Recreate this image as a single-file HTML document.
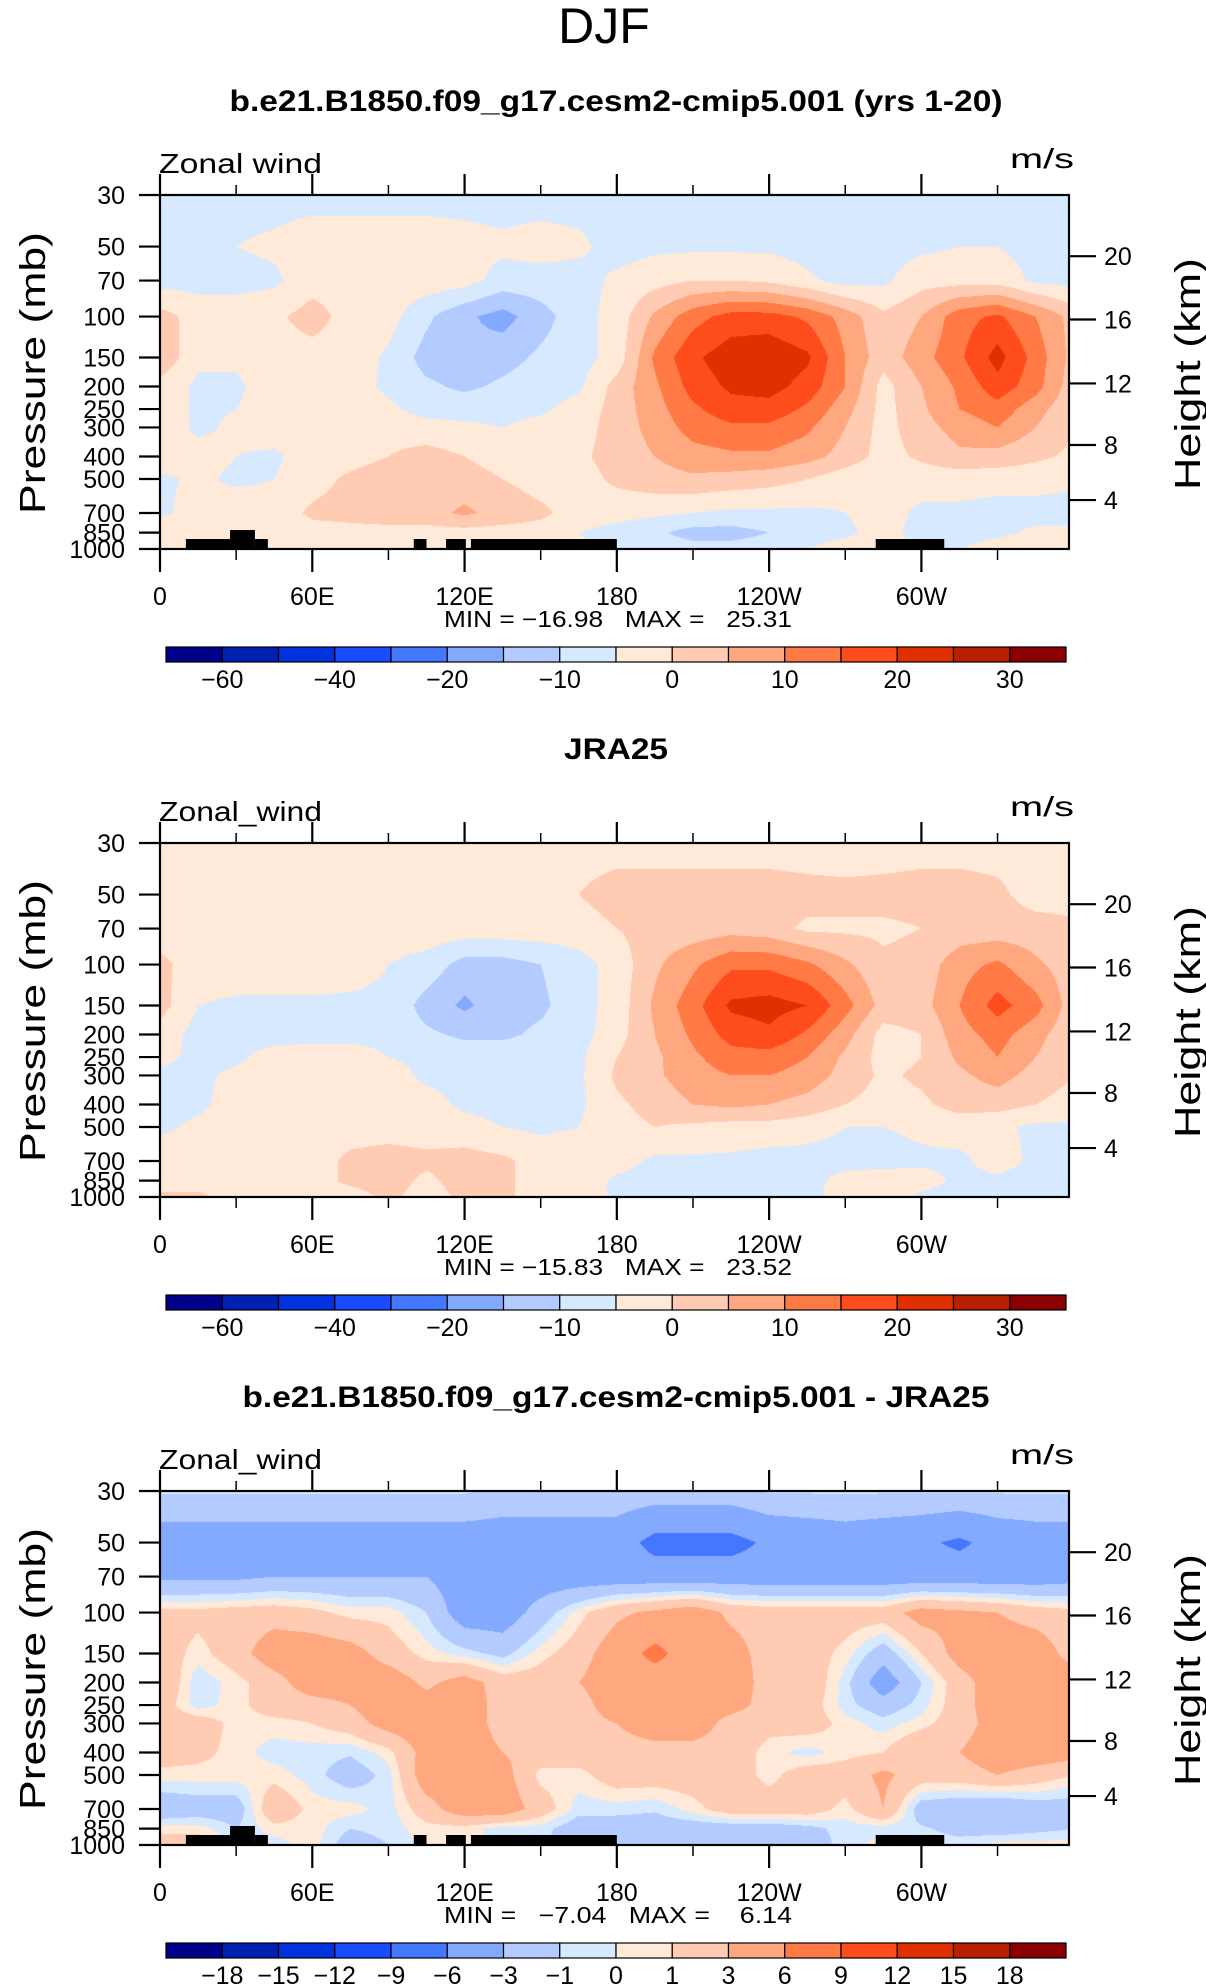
<!DOCTYPE html>
<html><head><meta charset="utf-8"><title>DJF Zonal wind</title>
<style>
html,body{margin:0;padding:0;background:#fff;}
#page{position:relative;width:1206px;height:1987px;overflow:hidden;background:#fff;}
canvas{position:absolute;}
svg{position:absolute;left:0;top:0;}
text{font-family:"Liberation Sans",sans-serif;fill:#000;}
</style></head>
<body>
<div id="page">
<svg id="fig" width="1206" height="1987" viewBox="0 0 1206 1987">
<text x="604" y="43" font-size="50" text-anchor="middle">DJF</text>
</svg>
</div>
<script>
// ---- data ----
const pressureLevels = [30,50,70,100,150,200,250,300,400,500,700,850,1000];
const lonGrid = [0,15,30,45,60,75,90,105,120,135,150,165,180,195,210,225,240,255,270,285,300,315,330,345,360];
const lonTickValues = [0,60,120,180,240,300];
const lonTickLabels = ['0','60E','120E','180','120W','60W'];
const lonMinorTicks = [30,90,150,210,270,330];
const heightKm = [4,8,12,16,20];
const heightPressure = [616,357,194,103,55];
const levelsFull = [-60,-50,-40,-30,-20,-15,-10,-5,0,5,10,15,20,25,30];
const labelsFull = ['\u221260','','\u221240','','\u221220','','\u221210','','0','','10','','20','','30'];
const levelsDiff = [-18,-15,-12,-9,-6,-3,-1,0,1,3,6,9,12,15,18];
const labelsDiff = ['\u221218','\u221215','\u221212','\u22129','\u22126','\u22123','\u22121','0','1','3','6','9','12','15','18'];
const bandColors = ['#00008b','#0020b0','#0033dd','#1a4cff','#4477ff','#84aaff','#b4cbff','#d6e9ff','#ffe9d8','#ffcbb2','#ffa880','#ff7a45','#ff4c1c','#e03000','#b81e00','#8b0000'];
const topoStart = [10.2,27.6,37.4,100,112.7,122.5,282];
const topoEnd = [27.6,37.4,42.5,105,120.5,180,309];
const topoHeight = [10,19,10,10,10,10,10];

const modelWind = [
[-7,-7,-7,-7,-7,-7,-7,-7,-7,-7,-7,-7,-7,-7,-7,-7,-7,-7,-7,-7,-7,-7,-7,-7,-7],
[-5,-5,-5,-4,-2,-2,-2,-2,-3,-4,-3,-4,-7,-6,-6,-6,-6,-7,-7,-7,-6,-5,-5,-7,-7],
[-7,-7,-7,-6,-2,-2,-2,-2,-3,-7,-7,-7,-4,-2,0,0,-1,-4,-7,-6,-2,-2,-2,-6,-7],
[2,-2,-2,-1,2,-2,-3,-9,-14,-17,-12,-7,-3,6,13,17,17,14,8,1,5,13,16,10,3],
[4,-4,-4,-2,-2,-2,-6,-12,-14,-12,-9,-7,-3,11,19,23,24,21,10,2,8,14,22,13,3],
[-2,-6,-6,-2,-2,-3,-6,-9,-11,-9,-7,-6,2,9,17,21,22,18,10,-2,5,11,18,12,2],
[-2,-6,-5,-3,-2,-2,-4,-7,-7,-7,-6,-3,2,8,14,18,18,14,7,-2,4,10,13,7,1],
[-2,-6,-4,-2,-2,-2,-2,-3,-4,-5,-3,-2,2,7,12,14,14,11,5,-2,3,7,10,5,0],
[-2,-3,-5,-6,-2,-2,0,2,0,-2,-2,-1,2,5,8,9,9,7,3,-2,1,4,3,1,-1],
[-6,-4,-6,-5,-2,1,3,3,2,0,-2,-2,1,3,4,3,2,0,-3,-4,-3,-3,-3,-3,-4],
[-6,-3,-2,-3,1,2,3,3,6,3,1,-2,-3,-4,-5,-6,-6,-6,-5,-3,-6,-6,-7,-7,-7],
[-1,0,-2,-4,-2,-2,-2,-2,-2,-2,-2,-5,-7,-9,-12,-12,-10,-7,-6,-3,-7,-7,-6,-4,-4],
[-1,0,-2,-2,-2,-2,-2,-2,-2,-2,-2,-4,-6,-7,-8,-8,-7,-5,-3,-2,-6,-5,-3,-2,-2]
];
const obsWind = [
[-3,-4,-4,-4,-3,-2,-2,-2,-2,-2,-2,-2,-2,-2,-2,-2,-2,-3,-4,-3,-2,-2,-2,-2,-2],
[0,0,-2,-2,-2,-2,-2,-2,-2,0,0,0,2,2,2,2,2,2,2,2,2,2,1,-2,-2],
[-2,-2,-2,-2,-2,-2,-2,-2,-2,-2,-2,-2,0,2,2,3,2,-1,-1,-1,0,2,2,2,1],
[1,-2,-2,-2,-2,-3,-5,-7,-12,-12,-10,-7,-3,4,9,14,14,11,6,1,2,8,11,6,2],
[2,-5,-6,-6,-6,-6,-6,-12,-16,-12,-11,-7,-3,6,13,21,22,20,12,3,3,10,17,12,2],
[-2,-7,-7,-7,-7,-7,-7,-9,-11,-11,-9,-7,-2,5,11,17,19,14,7,-2,0,8,12,7,1],
[-4,-6,-6,-3,-2,-2,-5,-6,-7,-7,-7,-6,0,4,9,13,13,10,4,-2,0,6,10,5,0],
[-6,-6,-4,-2,-2,-2,-3,-6,-7,-7,-7,-6,1,4,8,10,10,8,3,-1,1,4,7,3,0],
[-6,-6,-3,-2,-2,-2,-2,-3,-6,-7,-7,-6,-1,2,5,6,5,3,0,-2,-1,2,2,0,-2],
[-6,-4,-3,-3,-2,-2,-2,-2,-3,-5,-6,-5,-2,0,-1,-2,-2,-3,-5,-5,-4,-3,-4,-6,-6],
[-2,-2,-2,-2,-2,1,2,1,2,1,-2,-2,-3,-6,-6,-6,-7,-7,-7,-7,-6,-6,-3,-6,-7],
[-2,-2,-2,-2,-2,1,2,-1,2,1,-2,-2,-6,-7,-7,-7,-7,-7,-3,-2,-3,-6,-6,-7,-7],
[1,1,-2,-5,-2,-2,1,-2,1,1,-2,-2,-6,-7,-7,-7,-7,-7,-2,-2,-6,-7,-7,-7,-7]
];
const diffWind = [
[-0.8,-0.8,-0.8,-0.8,-0.8,-0.8,-0.8,-0.8,-0.8,-1.5,-1.5,-1.5,-1.5,-1.5,-1.5,-1.5,-0.8,-0.8,-0.8,-0.8,-0.8,-0.8,-0.8,-0.8,-0.8],
[-4.5,-4.5,-4.5,-4.5,-4.5,-4.5,-4.5,-4.5,-4.5,-4.5,-4.5,-4.5,-4.5,-7,-7,-7,-5.5,-5,-4.5,-5,-5.5,-6.5,-5,-4.5,-4.5],
[-3.5,-3.5,-3.5,-3,-3,-3,-3,-3,-4.5,-4.5,-4.5,-4.5,-4.5,-4.5,-4.5,-4.5,-4.5,-4.5,-4.5,-4.5,-4.5,-4.5,-4.5,-4.5,-4],
[1.5,1.5,1.8,2,1.5,0.5,0.5,-1,-4.5,-4.5,-2,0.5,2.5,3.5,4.5,2.5,2,2,2,2,4,3.5,3,2,1.5],
[2,0.5,2,4.5,4.5,4,2,0.5,-0.5,-1.5,0.5,2,4.5,6.8,4.5,4,2,2,0.5,-2,1,4,4.5,4.5,2],
[3,-0.8,0.5,2,4.5,4.5,4.5,2.5,4,2,2,3,4.5,4.5,4.5,4.5,2,2.5,-0.5,-4.5,-1,2,4.5,4.5,4.5],
[2,-0.5,0.5,2,2,3,4.5,4,4.5,2,2,2,4.5,4.5,4.5,4,2,2,-0.5,-2,-0.5,2,4.5,4.5,4.5],
[2,2,0.5,0.5,1,2,4,4.5,4.5,2,2,2,3,4.5,4.5,2,1.5,2,0.5,-0.5,0.5,2,4,4.5,4.5],
[2,1.5,0.5,-0.5,-0.5,-0.8,0.5,4,4.5,3,2,2,2,2,2,2,0.5,-0.5,0.5,1,3,3,4.5,4.5,4],
[0.5,0.5,0.5,0.5,-0.5,-2,-0.5,4.5,4.5,4,0.5,0.5,2,2,2,2,0.5,2,2,3.5,2,2,3,2,1],
[-2.5,-2,-2,2.5,0.5,0.5,-0.5,2,4.5,4.5,2,-0.5,-0.5,-0.8,0.5,2,2,2,0.5,3,-2,-2.5,-3,-2,-2],
[0.5,0.5,-1,0.5,0.5,-1,-0.5,0.5,0.5,-0.5,-0.5,-2,-2,-2,-2,-2,-2,-1.5,-0.5,-0.5,-0.8,-1.5,-2,-1.5,-1],
[2,2,-0.5,-0.5,0.5,-2,-1,0.5,0.5,-0.5,-0.8,-2,-2,-2,-2,-2,-2,-2,-0.5,0.5,-0.5,-0.5,0.5,0.5,0.5]
];

// ---- layout ----
const PX0 = 160, PW = 909, PY0 = 195, PH = 354, PXPERDEG = 2.538;
const NS = 'http://www.w3.org/2000/svg';
const svg = document.getElementById('fig');
const page = document.getElementById('page');
function xOf(lon){ return PX0 + lon*PXPERDEG; }
function yOf(p, dy){ return dy + PY0 + Math.log(p/30)/Math.log(1000/30)*PH; }
function hexToRgb(h){ return [parseInt(h.substr(1,2),16),parseInt(h.substr(3,2),16),parseInt(h.substr(5,2),16)]; }
function el(tag, attrs, parent){
  const e = document.createElementNS(NS, tag);
  for (const k in attrs) e.setAttribute(k, attrs[k]);
  (parent||svg).appendChild(e);
  return e;
}
function txt(str, attrs){
  const t = el('text', attrs);
  t.textContent = str;
  return t;
}
function sample(grid, lon, p){
  let k = 0;
  while (k < pressureLevels.length-2 && p > pressureLevels[k+1]) k++;
  const t = (Math.log(p) - Math.log(pressureLevels[k]))/(Math.log(pressureLevels[k+1]) - Math.log(pressureLevels[k]));
  let j = Math.floor(lon/15); if (j > 23) j = 23;
  const s = lon/15 - j;
  const a = grid[k][j]*(1-s) + grid[k][j+1]*s;
  const b = grid[k+1][j]*(1-s) + grid[k+1][j+1]*s;
  return a*(1-t) + b*t;
}
function bandIndex(v, levels){
  let i = 0;
  while (i < levels.length && v >= levels[i]) i++;
  return i;
}

function drawPanel(dy, grid, levels, cbLabels, title, titleLen, leftLabel, minmax, showTopo, panelName){
  const cv = document.createElement('canvas');
  cv.width = PW; cv.height = PH;
  cv.style.left = PX0 + 'px';
  cv.style.top = (PY0+dy) + 'px';
  
  
  page.insertBefore(cv, svg);
  const ctx = cv.getContext('2d');
  const img = ctx.createImageData(PW, PH);
  const rgb = bandColors.map(hexToRgb);
  for (let py = 0; py < PH; py++){
    const p = 30*Math.exp((py+0.5)/PH*Math.log(1000/30));
    for (let px = 0; px < PW; px++){
      const lon = (px+0.5)/PXPERDEG;
      const c = rgb[bandIndex(sample(grid, lon, p), levels)];
      const o = (py*PW+px)*4;
      img.data[o]=c[0]; img.data[o+1]=c[1]; img.data[o+2]=c[2]; img.data[o+3]=255;
    }
  }
  ctx.putImageData(img, 0, 0);

  const g = el('g', {});
  
  

  if (showTopo){
    for (let i = 0; i < topoStart.length; i++){
      const r = el('rect', {x: xOf(topoStart[i]), y: PY0+dy+PH-topoHeight[i], width: xOf(topoEnd[i])-xOf(topoStart[i]), height: topoHeight[i], fill:'#000'}, g);
      
      
    }
  }
  const fr = el('rect', {x:PX0, y:PY0+dy, width:PW, height:PH, fill:'none', stroke:'#000', 'stroke-width':2.2}, g);
  
  

  for (let i = 0; i < lonTickValues.length; i++){
    const x = xOf(lonTickValues[i]);
    const t1 = el('line', {x1:x, x2:x, y1:PY0+dy-21, y2:PY0+dy, stroke:'#000','stroke-width':2.2}, g);
    
    
    const t2 = el('line', {x1:x, x2:x, y1:PY0+dy+PH, y2:PY0+dy+PH+23, stroke:'#000','stroke-width':2.2}, g);
    
    
    const lb = txt(lonTickLabels[i], {x:x, y:dy+605, 'font-size':25, 'text-anchor':'middle'});
    
    
  }
  for (let i = 0; i < lonMinorTicks.length; i++){
    const x = xOf(lonMinorTicks[i]);
    const t1 = el('line', {x1:x, x2:x, y1:PY0+dy-10, y2:PY0+dy, stroke:'#000','stroke-width':1.5}, g);
    
    
    const t2 = el('line', {x1:x, x2:x, y1:PY0+dy+PH, y2:PY0+dy+PH+11, stroke:'#000','stroke-width':1.5}, g);
    
    
  }
  for (let i = 0; i < pressureLevels.length; i++){
    const y = yOf(pressureLevels[i], dy);
    const t = el('line', {x1:PX0-21, x2:PX0, y1:y, y2:y, stroke:'#000','stroke-width':2.2}, g);
    
    
    const lb = txt(String(pressureLevels[i]), {x:125, y:y+9, 'font-size':25, 'text-anchor':'end'});
    
    
  }
  for (let i = 0; i < heightKm.length; i++){
    const y = yOf(heightPressure[i], dy);
    const t = el('line', {x1:PX0+PW, x2:PX0+PW+27, y1:y, y2:y, stroke:'#000','stroke-width':2.2}, g);
    
    
    const lb = txt(String(heightKm[i]), {x:1104, y:y+9, 'font-size':25});
    
    
  }
  const tt = txt(title, {x:616, y:dy+111, 'font-size':30, 'font-weight':'bold', 'text-anchor':'middle', textLength:titleLen, lengthAdjust:'spacingAndGlyphs'});
  
  
  const ll = txt(leftLabel, {x:159, y:dy+173, 'font-size':28, textLength:163, lengthAdjust:'spacingAndGlyphs'});
  
  
  const ul = txt('m/s', {x:1010, y:dy+168, 'font-size':28, textLength:64, lengthAdjust:'spacingAndGlyphs'});
  
  
  const yt = txt('Pressure  (mb)', {x:0, y:0, 'font-size':36, 'text-anchor':'middle', textLength:282, lengthAdjust:'spacingAndGlyphs', transform:'translate(45,'+(dy+373)+') rotate(-90)'});
  
  
  const rt = txt('Height  (km)', {x:0, y:0, 'font-size':36, 'text-anchor':'middle', textLength:232, lengthAdjust:'spacingAndGlyphs', transform:'translate(1200,'+(dy+374)+') rotate(-90)'});
  
  
  const mm = txt(minmax, {x:444, y:dy+627, 'font-size':23, textLength:348, lengthAdjust:'spacingAndGlyphs', style:'white-space:pre'});
  
  

  const cbx = 166, cbw = 56.25, cby = dy+647, cbh = 15;
  for (let i = 0; i < bandColors.length; i++){
    const r = el('rect', {x:cbx+i*cbw, y:cby, width:cbw, height:cbh, fill:bandColors[i], stroke:'#000', 'stroke-width':1.2}, g);
    
    
  }
  for (let i = 0; i < levels.length; i++){
    if (!cbLabels[i]) continue;
    const lb = txt(cbLabels[i], {x:cbx+(i+1)*cbw, y:dy+688, 'font-size':25, 'text-anchor':'middle'});
    
    
  }
}

drawPanel(0, modelWind, levelsFull, labelsFull, 'b.e21.B1850.f09_g17.cesm2-cmip5.001 (yrs 1-20)', 773, 'Zonal wind', 'MIN = \u221216.98   MAX =   25.31', true, 'model-panel');
drawPanel(648, obsWind, levelsFull, labelsFull, 'JRA25', 104, 'Zonal_wind', 'MIN = \u221215.83   MAX =   23.52', false, 'jra25-panel');
drawPanel(1296, diffWind, levelsDiff, labelsDiff, 'b.e21.B1850.f09_g17.cesm2-cmip5.001 - JRA25', 747, 'Zonal_wind', 'MIN =   \u22127.04   MAX =    6.14', true, 'difference-panel');
</script>
</body></html>
